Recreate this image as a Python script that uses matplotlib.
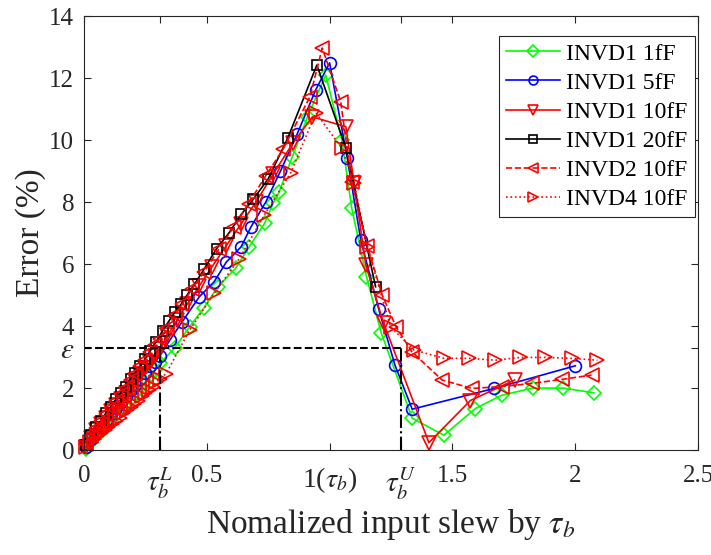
import matplotlib
matplotlib.use('Agg')
import matplotlib.pyplot as plt

plt.rcParams['font.family'] = ['Liberation Serif', 'DejaVu Serif']
plt.rcParams['mathtext.fontset'] = 'stix'

# Reference levels
tau_L = 0.31
tau_U = 1.29
eps = 3.3

# INVD1 1fF
x_1f = [0.01, 0.03, 0.05, 0.07, 0.09, 0.11, 0.13, 0.15, 0.17, 0.19, 0.21, 0.23,
        0.25, 0.27, 0.29, 0.31, 0.37, 0.43, 0.49, 0.545, 0.617, 0.673, 0.735,
        0.77, 0.795, 0.848, 0.91, 0.984, 1.05, 1.09, 1.15, 1.21, 1.336, 1.465,
        1.593, 1.70, 1.826, 1.95, 2.075]
y_1f = [0.05, 0.25, 0.45, 0.6, 0.8, 0.95, 1.15, 1.3, 1.5, 1.65, 1.85, 2.0,
        2.2, 2.4, 2.6, 2.8, 3.3, 3.98, 4.6, 5.27, 5.86, 6.56, 7.31,
        7.96, 8.33, 9.46, 10.75, 12.1, 10.0, 7.8, 5.6, 3.78, 1.03, 0.48,
        1.34, 1.77, 2.0, 2.0, 1.85]

# INVD1 5fF
x_5f = [0.01, 0.03, 0.05, 0.07, 0.09, 0.11, 0.13, 0.15, 0.17, 0.19, 0.21, 0.23,
        0.25, 0.27, 0.29, 0.31, 0.35, 0.40, 0.47, 0.53, 0.58, 0.64, 0.68, 0.74,
        0.80, 0.868, 0.944, 1.0, 1.072, 1.127, 1.20, 1.266, 1.336, 1.67, 2.0]
y_5f = [0.1, 0.35, 0.55, 0.75, 0.95, 1.15, 1.35, 1.55, 1.75, 1.95, 2.1, 2.3,
        2.5, 2.7, 2.85, 3.05, 3.55, 4.14, 4.95, 5.43, 6.07, 6.56, 7.2, 8.0,
        9.0, 10.2, 11.63, 12.49, 9.41, 6.77, 4.54, 2.74, 1.32, 1.99, 2.72]

# INVD1 10fF
x_10f = [0.01, 0.03, 0.05, 0.07, 0.09, 0.11, 0.13, 0.15, 0.17, 0.19, 0.21, 0.23,
         0.25, 0.27, 0.29, 0.31, 0.34, 0.38, 0.42, 0.47, 0.52, 0.58, 0.64, 0.70,
         0.77, 0.85, 0.93, 1.066, 1.10, 1.147, 1.22, 1.404, 1.573, 1.753]
y_10f = [0.1, 0.4, 0.65, 0.85, 1.05, 1.25, 1.45, 1.65, 1.85, 2.05, 2.25, 2.45,
         2.65, 2.85, 3.05, 3.25, 3.7, 4.2, 4.7, 5.3, 5.9, 6.6, 7.3, 8.0,
         8.9, 9.9, 10.75, 10.43, 8.6, 5.97, 4.09, 0.24, 1.6, 2.26]

# INVD1 20fF
x_20f = [0.01, 0.03, 0.05, 0.07, 0.09, 0.11, 0.13, 0.15, 0.17, 0.19, 0.21, 0.23,
         0.25, 0.27, 0.295, 0.32, 0.345, 0.37, 0.395, 0.42, 0.45, 0.49, 0.54,
         0.59, 0.64, 0.69, 0.75, 0.83, 0.948, 1.066, 1.187]
y_20f = [0.15, 0.5, 0.75, 0.95, 1.2, 1.4, 1.65, 1.85, 2.05, 2.3, 2.5, 2.7,
         2.95, 3.2, 3.5, 3.85, 4.15, 4.45, 4.7, 5.0, 5.35, 5.85, 6.5,
         7.0, 7.6, 8.1, 8.75, 10.07, 12.42, 9.75, 5.27]

# INVD2 10fF
x_d2 = [0.01, 0.03, 0.05, 0.07, 0.09, 0.11, 0.13, 0.15, 0.17, 0.19, 0.21, 0.23,
        0.25, 0.27, 0.29, 0.31, 0.34, 0.37, 0.40, 0.44, 0.49, 0.55, 0.61, 0.67,
        0.74, 0.81, 0.92, 0.97, 1.045, 1.09, 1.153, 1.214, 1.27, 1.335, 1.458,
        1.58, 1.70, 1.823, 1.944, 2.066]
y_d2 = [0.2, 0.45, 0.7, 0.95, 1.15, 1.35, 1.6, 1.8, 2.0, 2.25, 2.45, 2.7,
        2.9, 3.15, 3.4, 3.6, 3.95, 4.35, 4.7, 5.2, 5.75, 6.5, 7.2, 7.95,
        8.85, 9.7, 11.4, 12.97, 11.24, 8.66, 6.6, 5.0, 3.98, 3.17, 2.26,
        1.99, 2.05, 2.15, 2.28, 2.42]

# INVD4 10fF
x_d4 = [0.01, 0.025, 0.04, 0.055, 0.07, 0.085, 0.10, 0.115, 0.13, 0.145,
        0.16, 0.175, 0.19, 0.205, 0.22, 0.235, 0.25, 0.265, 0.28, 0.295,
        0.31, 0.335, 0.43, 0.53, 0.633, 0.734, 0.842, 0.944, 1.05, 1.10,
        1.153, 1.248, 1.343, 1.465, 1.566, 1.674, 1.776, 1.877, 1.985, 2.09]
y_d4 = [0.1, 0.25, 0.35, 0.45, 0.55, 0.65, 0.75, 0.85, 0.95, 1.05,
        1.2, 1.3, 1.4, 1.5, 1.6, 1.75, 1.85, 1.95, 2.05, 2.2,
        2.3, 2.47, 3.87, 5.06, 6.18, 7.58, 8.95, 10.88, 9.74, 8.6,
        6.56, 3.98, 3.23, 2.96, 2.96, 2.9, 2.99, 2.99, 2.96, 2.9]

xticks = [0, tau_L, 0.5, 1, tau_U, 1.5, 2, 2.5]
xticklabels = ['0', r'$\tau_b^L$', '0.5', r'1($\tau_b$)', r'$\tau_b^U$',
               '1.5', '2', '2.5']
yticks = [0, 2, eps, 4, 6, 8, 10, 12, 14]
yticklabels = ['0', '2', r'$\epsilon$', '4', '6', '8', '10', '12', '14']

fig = plt.figure(figsize=(7.11, 5.55), dpi=100)
ax = fig.add_axes([0.118, 0.189, 0.864, 0.782])

gray = '#262626'
kw = dict(lw=1.2, mew=1.2, mfc='none', clip_on=False)
ax.plot(x_1f, y_1f, '-', color='#00ff00', marker='D', ms=7.5,
        label='INVD1 1fF', **kw)
ax.plot(x_5f, y_5f, '-', color='#0000ff', marker='o', ms=8.5,
        label='INVD1 5fF', **kw)
ax.plot(x_10f, y_10f, '-', color='#ff0000', marker='v', ms=10,
        label='INVD1 10fF', **kw)
ax.plot(x_20f, y_20f, '-', color='black', marker='s', ms=7,
        label='INVD1 20fF', **kw)
ax.plot(x_d2, y_d2, '--', color='#ff0000', marker='<', ms=10,
        label='INVD2 10fF', **kw)
ax.plot(x_d4, y_d4, ':', color='#ff0000', marker='>', ms=10,
        label='INVD4 10fF', **kw)

# Epsilon bounds
ax.plot([0, tau_U], [eps, eps], '--', color='black', lw=1.5)
ax.plot([tau_L, tau_L], [0, eps], '-.', color='black', lw=1.5)
ax.plot([tau_U, tau_U], [0, eps], '-.', color='black', lw=1.5)

ax.set_xlim(0, 2.5)
ax.set_ylim(0, 14)
ax.set_xticks(xticks)
ax.set_xticklabels(xticklabels)
ax.set_yticks(yticks)
ax.set_yticklabels(yticklabels)
ax.tick_params(direction='in', top=True, right=True, length=5, width=0.8,
               labelsize=18, colors=gray)
ax.tick_params(axis='x', pad=11)
ax.tick_params(axis='y', pad=7)
for lbl in ax.get_xticklabels() + ax.get_yticklabels():
    if lbl.get_text().startswith('$'):
        lbl.set_fontsize(21)
    elif '$' in lbl.get_text():
        lbl.set_fontsize(20)
for s in ax.spines.values():
    s.set_color(gray)
    s.set_linewidth(0.8)

ax.set_xlabel(r'Nomalized input slew by $\tau_b$', fontsize=24, color=gray,
              labelpad=4)
ax.set_ylabel('Error (%)', fontsize=24, color=gray, labelpad=2)

leg = ax.legend(loc='upper right', bbox_to_anchor=(0.994, 0.954), fontsize=17,
                fancybox=False, framealpha=1, edgecolor=gray,
                handlelength=2.3, handletextpad=0.25, labelspacing=0.32,
                borderpad=0.3, borderaxespad=0, markerscale=0.75)
leg.get_frame().set_linewidth(0.8)

fig.savefig('out.png', dpi=100)
